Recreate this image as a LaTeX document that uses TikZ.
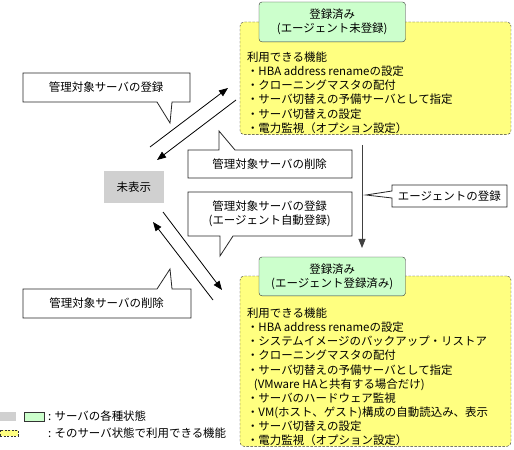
\documentclass[tikz,border=0pt]{standalone}
\usepackage{fontspec}
\setmainfont{Noto Sans CJK JP}
\usetikzlibrary{arrows.meta,
                positioning}
\definecolor{stgray}{HTML}{D0D0D0}
\definecolor{stgreen}{HTML}{CCFFCC}
\definecolor{fnyellow}{HTML}{FFFF80}

\begin{document}
\begin{tikzpicture}[x=1bp, y=-1bp,
  font = \fontsize{11.5}{14.2}\selectfont,
  every node/.style = {inner sep=0pt, outer sep=0pt},
 STATE/.style = {draw=black!80, fill=stgreen, rounded corners=3bp,
                 align=center, anchor=north west},
  FUNC/.style = {draw=black!80, fill=fnyellow, rounded corners=4bp,
                 dash pattern=on 2.5bp off 1.5bp, anchor=north west},
  LIST/.style = {align=left, anchor=north west},
  CALL/.style = {align=center, anchor=north west},
  TAIL/.style = {draw=black!85, fill=white, line width=0.8bp},
   ARR/.style = {-{Triangle[length=9bp,width=7bp]}, line width=0.8bp}
                        ]
\useasboundingbox (0,0) rectangle (514,450);
% states and functions
\node[FUNC, minimum width=272, minimum height=113] (funcTop) at (240,22) {};
\node[FUNC, minimum width=272, minimum height=171] (funcBot) at (240,276) {};
\node[STATE, minimum width=147, minimum height=40] (regNoAgent) at (259,2)
     {登録済み\\(エージェント未登録)};
\node[STATE, minimum width=147, minimum height=39] (regAgent) at (259,257)
     {登録済み\\(エージェント登録済み)};
\node[fill=stgray, minimum width=60, minimum height=32, anchor=north west]
     (hidden) at (104,171) {未表示};
\node[LIST] (listTop) at (247,51.8)
     {利用できる機能\\
      ・HBA address renameの設定\\
      ・クローニングマスタの配付\\
      ・サーバ切替えの予備サーバとして指定\\
      ・サーバ切替えの設定\\
      ・電力監視（オプション設定）};
\node[LIST] (listBot) at (247,307.8)
     {利用できる機能\\
      ・HBA address renameの設定\\
      ・システムイメージのバックアップ・リストア\\
      ・クローニングマスタの配付\\
      ・サーバ切替えの予備サーバとして指定\\
      \hspace*{0.6em}(VMware HAと共有する場合だけ)\\
      ・サーバのハードウェア監視\\
      ・VM(ホスト、ゲスト)構成の自動読込み、表示\\
      ・サーバ切替えの設定\\
      ・電力監視（オプション設定）};
% callouts
\path[TAIL] (23,73) -- (190,73) -- (190,102) -- (172,102) -- (170,123)
     -- (157,102) -- (23,102) -- cycle;
\node[CALL, minimum width=167, minimum height=29] (cRegA) at (23,73)
     {管理対象サーバの登録};
\path[TAIL] (188,150) -- (219,150) -- (219,131) -- (235,150) -- (352,150)
     -- (352,178) -- (188,178) -- cycle;
\node[CALL, minimum width=164, minimum height=28] (cDelA) at (188,150)
     {管理対象サーバの削除};
\path[TAIL] (188,192) -- (352,192) -- (352,236) -- (233,236) -- (220,256)
     -- (220,236) -- (188,236) -- cycle;
\node[CALL, minimum width=164, minimum height=44] (cRegB) at (188,192)
     {管理対象サーバの登録\\(エージェント自動登録)};
\path[TAIL] (392,185) -- (507,185) -- (507,207) -- (392,207) -- (392,198)
     -- (366,195) -- (392,191) -- cycle;
\node[CALL, minimum width=115, minimum height=22] (cAgent) at (392,185)
     {エージェントの登録};
\path[TAIL] (23,289) -- (157,289) -- (170,269) -- (172,289) -- (191,289)
     -- (191,318) -- (23,318) -- cycle;
\node[CALL, minimum width=168, minimum height=29] (cDelB) at (23,289)
     {管理対象サーバの削除};
% transitions
\coordinate (upA)   at (150,147);
\coordinate (upB)   at (228,88);
\coordinate (dnA)   at (236,100);
\coordinate (dnB)   at (157,160);
\coordinate (loA)   at (163,212);
\coordinate (loB)   at (222,290);
\coordinate (bkA)   at (213,300);
\coordinate (bkB)   at (153,222);
\coordinate (agA)   at (362,145);
\coordinate (agB)   at (362,248);
\draw[ARR] (upA) -- (upB);
\draw[ARR] (dnA) -- (dnB);
\draw[ARR] (loA) -- (loB);
\draw[ARR] (bkA) -- (bkB);
\draw[ARR, black!75] (agA) -- (agB);
% legend
\node[fill=stgray, minimum width=16, minimum height=9, anchor=north west]
     (keyGray) at (0,412) {};
\node[draw=black!80, fill=stgreen, minimum width=20, minimum height=9,
      anchor=north west] (keyGreen) at (24,412) {};
\node[draw=black!80, fill=fnyellow, dash pattern=on 2bp off 1.5bp,
      minimum width=18, minimum height=6, anchor=north west]
     (keyYellow) at (0,430) {};
\node[anchor=west] (keyState) at (48,416.5) {: サーバの各種状態};
\node[anchor=west] (keyFunc)  at (48,433.5) {: そのサーバ状態で利用できる機能};
\end{tikzpicture}
\end{document}
